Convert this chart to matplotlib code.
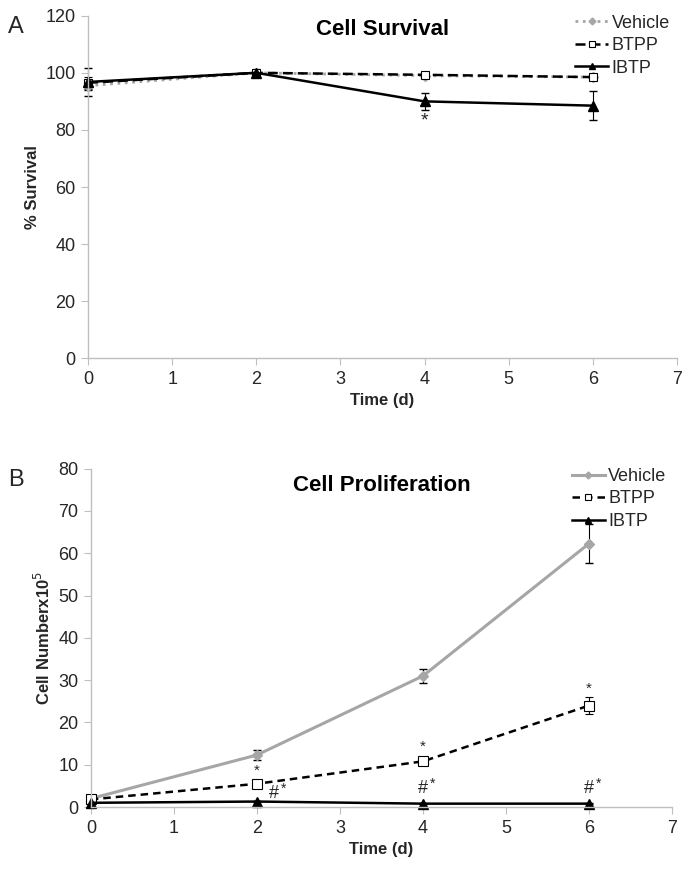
import matplotlib
matplotlib.use("Agg")
import matplotlib.pyplot as plt

plt.rcParams["font.family"] = ["Liberation Sans", "DejaVu Sans"]

days = [0, 2, 4, 6]

# panel A: cell survival (%)
surv_vehicle = [95.5, 100.0, 99.0, 98.5]
surv_vehicle_err = [1.5, 1.0, 0.8, 0.8]
surv_btpp = [96.5, 100.0, 99.3, 98.5]
surv_btpp_err = [2.0, 1.2, 0.8, 0.8]
surv_ibtp = [96.8, 100.0, 90.0, 88.5]
surv_ibtp_err = [5.0, 1.0, 3.0, 5.0]

# panel B: cell number x10^5
prol_vehicle = [2.0, 12.3, 31.0, 62.3]
prol_vehicle_err = [0.3, 1.2, 1.7, 4.7]
prol_btpp = [1.8, 5.5, 10.8, 24.0]
prol_btpp_err = [0.3, 0.4, 0.8, 2.0]
prol_ibtp = [1.0, 1.3, 0.8, 0.8]
prol_ibtp_err = [0.2, 0.2, 0.1, 0.1]

GRAY = "#A6A6A6"
AXIS = "#BFBFBF"
TXT = "#262626"


def style_axes(ax, ymax, ystep):
    for s in ("top", "right"):
        ax.spines[s].set_visible(False)
    for s in ("left", "bottom"):
        ax.spines[s].set_color(AXIS)
        ax.spines[s].set_linewidth(1.0)
    ax.set_xlim(0, 7)
    ax.set_ylim(0, ymax)
    ax.set_xticks(range(0, 8))
    ax.set_yticks(range(0, ymax + 1, ystep))
    ax.tick_params(direction="out", length=5, color=AXIS, labelsize=13,
                   labelcolor=TXT, pad=4)
    ax.set_xlabel("Time (d)", fontsize=12, fontweight="bold", color=TXT)


def add_legend(ax):
    handles, labels = ax.get_legend_handles_labels()
    handles = [h[0] for h in handles]  # line only, no error bars
    ax.legend(handles, labels, loc="upper left", bbox_to_anchor=(0.80, 1.05),
              frameon=False, fontsize=13, handlelength=1.8, handletextpad=0.2,
              labelspacing=0.3, markerscale=0.7, labelcolor=TXT)


fig = plt.figure(figsize=(6.83, 8.72), dpi=100)

# ---- A ----
ax1 = fig.add_axes([0.129, 0.589, 0.862, 0.393])
ax1.errorbar(days, surv_vehicle, yerr=surv_vehicle_err, color=GRAY, ls=":",
             lw=2, marker="D", ms=5, mfc=GRAY, mec=GRAY, ecolor="black",
             elinewidth=0.8, capsize=3, label="Vehicle", clip_on=False)
ax1.errorbar(days, surv_btpp, yerr=surv_btpp_err, color="black", ls=(0, (4, 2)),
             lw=1.8, marker="s", ms=6, mfc="white", mec="black", mew=0.8,
             ecolor="black", elinewidth=0.8, capsize=3, label="BTPP", clip_on=False)
ax1.errorbar(days, surv_ibtp, yerr=surv_ibtp_err, color="black", ls="-",
             lw=1.8, marker="^", ms=7, mfc="black", mec="black",
             ecolor="black", elinewidth=0.8, capsize=3, label="IBTP", clip_on=False)
style_axes(ax1, 120, 20)
ax1.set_ylabel("% Survival", fontsize=12, fontweight="bold", color=TXT)
ax1.set_title("Cell Survival", fontsize=16, fontweight="bold", color="black",
              y=0.92)
ax1.text(4, 83, "*", ha="center", va="center", fontsize=14, color=TXT)
add_legend(ax1)

# ---- B ----
ax2 = fig.add_axes([0.133, 0.0745, 0.851, 0.388])
ax2.errorbar(days, prol_vehicle, yerr=prol_vehicle_err, color=GRAY, ls="-",
             lw=2.2, marker="D", ms=5, mfc=GRAY, mec=GRAY, ecolor="black",
             elinewidth=0.8, capsize=3, label="Vehicle", clip_on=False)
ax2.errorbar(days, prol_btpp, yerr=prol_btpp_err, color="black", ls=(0, (3, 2)),
             lw=1.8, marker="s", ms=7, mfc="white", mec="black", mew=0.8,
             ecolor="black", elinewidth=0.8, capsize=3, label="BTPP", clip_on=False)
ax2.errorbar(days, prol_ibtp, yerr=prol_ibtp_err, color="black", ls="-",
             lw=1.8, marker="^", ms=7, mfc="black", mec="black",
             ecolor="black", elinewidth=0.8, capsize=3, label="IBTP", clip_on=False)
style_axes(ax2, 80, 10)
ax2.set_ylabel("Cell Numberx10$^{5}$", fontsize=12, fontweight="bold", color=TXT)
ax2.set_title("Cell Proliferation", fontsize=16, fontweight="bold", color="black",
              y=0.91)
for x, y in [(2, 8.5), (4, 14.3), (6, 28.0)]:
    ax2.text(x, y, "*", ha="center", va="center", fontsize=11, color=TXT)
for x, y in [(2.2, 3.2), (4.0, 4.5), (6.0, 4.5)]:
    ax2.text(x, y, "#", ha="center", va="center", fontsize=13, color=TXT)
    ax2.text(x + 0.12, y + 1.0, "*", ha="center", va="center", fontsize=10,
             color=TXT)
add_legend(ax2)

fig.text(0.012, 0.982, "A", fontsize=17, color=TXT, va="top")
fig.text(0.012, 0.462, "B", fontsize=17, color=TXT, va="top")

fig.savefig("out.png", dpi=100)
